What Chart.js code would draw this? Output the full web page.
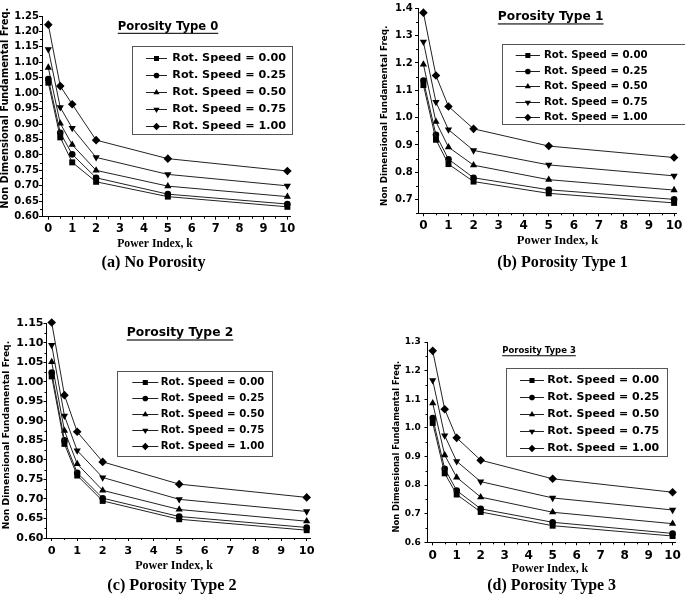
<!DOCTYPE html>
<html><head><meta charset="utf-8">
<script src="https://cdn.jsdelivr.net/npm/chart.js@4/dist/chart.umd.min.js"></script>
<style>
html,body{margin:0;padding:0;background:#fff;width:685px;height:595px;overflow:hidden}
canvas{position:absolute}
</style></head><body>
<canvas id="cA"></canvas><canvas id="cB"></canvas><canvas id="cC"></canvas><canvas id="cD"></canvas>
<script>
// ---------------- data ----------------
const powerIndex = [0, 0.5, 1, 2, 5, 10];
const speedLabels = ['Rot. Speed = 0.00','Rot. Speed = 0.25','Rot. Speed = 0.50','Rot. Speed = 0.75','Rot. Speed = 1.00'];
const xTickLabels = ['0','1','2','3','4','5','6','7','8','9','10'];
const yTickLabelsA = ['0.60','0.65','0.70','0.75','0.80','0.85','0.90','0.95','1.00','1.05','1.10','1.15','1.20','1.25'];
const yTickLabelsB = ['0.7','0.8','0.9','1.0','1.1','1.2','1.3','1.4'];
const yTickLabelsC = ['0.60','0.65','0.70','0.75','0.80','0.85','0.90','0.95','1.00','1.05','1.10','1.15'];
const yTickLabelsD = ['0.6','0.7','0.8','0.9','1.0','1.1','1.2','1.3'];

// Porosity Type 0 (no porosity)
const freqType0 = [
  [1.034, 0.857, 0.776, 0.713, 0.665, 0.632],
  [1.046, 0.872, 0.802, 0.726, 0.673, 0.641],
  [1.083, 0.902, 0.833, 0.750, 0.699, 0.665],
  [1.142, 0.954, 0.887, 0.792, 0.737, 0.700],
  [1.222, 1.023, 0.964, 0.848, 0.788, 0.748]
];
// Porosity Type 1
const freqType1 = [
  [1.119, 0.919, 0.830, 0.766, 0.723, 0.688],
  [1.136, 0.937, 0.848, 0.780, 0.736, 0.701],
  [1.195, 0.985, 0.892, 0.826, 0.773, 0.735],
  [1.277, 1.057, 0.956, 0.880, 0.827, 0.787],
  [1.384, 1.154, 1.041, 0.959, 0.896, 0.854]
];
// Porosity Type 2
const freqType2 = [
  [1.014, 0.841, 0.760, 0.695, 0.648, 0.620],
  [1.024, 0.850, 0.767, 0.702, 0.655, 0.627],
  [1.051, 0.875, 0.790, 0.722, 0.673, 0.643],
  [1.094, 0.913, 0.824, 0.755, 0.699, 0.668],
  [1.152, 0.966, 0.872, 0.795, 0.738, 0.704]
];
// Porosity Type 3
const freqType3 = [
  [1.017, 0.841, 0.767, 0.706, 0.658, 0.622],
  [1.034, 0.857, 0.781, 0.717, 0.670, 0.631],
  [1.086, 0.905, 0.827, 0.758, 0.705, 0.665],
  [1.166, 0.973, 0.883, 0.812, 0.755, 0.713],
  [1.269, 1.065, 0.965, 0.887, 0.822, 0.775]
];
const panelTitles = ['Porosity Type 0','Porosity Type 1','Porosity Type 2','Porosity Type 3'];
const captions = ['(a) No Porosity','(b) Porosity Type 1','(c) Porosity Type 2','(d) Porosity Type 3'];
const xAxisTitle = 'Power Index, k';
const yAxisTitle = 'Non Dimensional Fundamental Freq.';

// ---------------- styles / layout ----------------
const markerStyles = [
  {pointStyle:'rect', rotation:0, radius:4.2},
  {pointStyle:'circle', rotation:0, radius:3.3},
  {pointStyle:'triangle', rotation:0, radius:4.2},
  {pointStyle:'triangle', rotation:180, radius:4.2},
  {pointStyle:'rectRot', rotation:0, radius:4.3}
];
const SANS = '"DejaVu Sans", sans-serif';
const SERIF = '"Liberation Serif", "Times New Roman", serif';

const panels = [
  {id:'cA', off:[0,0,342,297], data:freqType0, yLabels:yTickLabelsA, yMin:0.60, yMax:1.25, xMin:-0.264, xMax:10.11,
   area:[42,290,16,216.7], yTickFont:10, xTickFont:11.5, yPad:0, xPad:2.4,
   title:[168,27,11.6], yTitle:[5.5,108.3,9.8], xTitle:[155,244,11.7], caption:[153.5,263,16.2],
   legend:{box:[132,46,292,134], rows:[57.7,74.7,92,109,126], sample:[146,167], textX:172.3, font:11.2}},
  {id:'cB', off:[342,0,343,297], data:freqType1, yLabels:yTickLabelsB, yMin:0.65, yMax:1.40, xMin:-0.216, xMax:10.09,
   area:[418,680,5.7,213.3], yTickFont:10, xTickFont:12, yPad:2.3, xPad:2.5,
   title:[550.7,17.3,12.2], yTitle:[385,115.8,8.8], xTitle:[557.5,241,12.6], caption:[562.5,263.3,16.1],
   legend:{box:[501.7,44,684.5,124], rows:[55,70.7,86.3,102,117.3], sample:[515.7,540], textX:544, font:10.2}},
  {id:'cC', off:[0,297,342,298], data:freqType2, yLabels:yTickLabelsC, yMin:0.60, yMax:1.15, xMin:-0.204, xMax:10.13,
   area:[46.5,310,323.3,538], yTickFont:11, xTickFont:11.3, yPad:0, xPad:2.9,
   title:[180,333.3,12.3], yTitle:[6.3,435,9.2], xTitle:[174,565.7,12], caption:[172,585.7,16.2],
   legend:{box:[117.3,370.7,272.3,456], rows:[381.7,398,414,430,446], sample:[132.3,158.3], textX:160.7, font:10.2}},
  {id:'cD', off:[342,297,343,298], data:freqType3, yLabels:yTickLabelsD, yMin:0.60, yMax:1.30, xMin:-0.217, xMax:10.1,
   area:[427.5,675,342,542.3], yTickFont:9, xTickFont:12, yPad:3.8, xPad:3.5,
   title:[539,351,8.5], yTitle:[396.7,446.7,8.4], xTitle:[550,568.7,11.8], caption:[551.7,585.7,15.9],
   legend:{box:[505.7,368.3,666.7,456], rows:[380,397,414,431,448], sample:[520,544], textX:547.3, font:11}}
];

const decoPlugin = {
  id:'deco',
  afterDraw(chart, args, opts) {
    const P = opts.panel, idx = opts.index;
    const ox = P.off[0], oy = P.off[1];
    const X = v => v - ox, Y = v => v - oy;
    const ctx = chart.ctx, a = chart.chartArea;
    const xs = chart.scales.x, ys = chart.scales.y;
    ctx.save();
    ctx.strokeStyle = '#000'; ctx.lineWidth = 1;
    // minor ticks on x (half units)
    const xv = xTickLabels.map(Number);
    ctx.beginPath();
    for (let i = 0; i < xv.length - 1; i++) {
      const px = Math.round(xs.getPixelForValue((xv[i] + xv[i+1]) / 2)) + 0.5;
      ctx.moveTo(px, a.bottom); ctx.lineTo(px, a.bottom + 2);
    }
    // minor ticks on y (midpoints)
    const yv = P.yLabels.map(Number);
    const step = yv[1] - yv[0];
    for (let i = 0; i < yv.length; i++) {
      const m = yv[i] - step / 2;
      if (m >= P.yMin - 1e-9) {
        const py = Math.round(ys.getPixelForValue(m)) + 0.5;
        ctx.moveTo(a.left, py); ctx.lineTo(a.left - 2, py);
      }
    }
    ctx.stroke();

    ctx.fillStyle = '#000';
    // panel title underlined
    ctx.font = 'bold ' + P.title[2] + 'px ' + SANS;
    ctx.textAlign = 'center'; ctx.textBaseline = 'middle';
    const tx = X(P.title[0]), ty = Y(P.title[1]);
    ctx.fillText(panelTitles[idx], tx, ty);
    const tw = ctx.measureText(panelTitles[idx]).width;
    ctx.fillRect(tx - tw / 2, ty + P.title[2] * 0.5, tw, Math.max(1, P.title[2] * 0.09));
    // y axis title
    ctx.save();
    ctx.translate(X(P.yTitle[0]), Y(P.yTitle[1]));
    ctx.rotate(-Math.PI / 2);
    ctx.font = 'bold ' + P.yTitle[2] + 'px ' + SANS;
    ctx.fillText(yAxisTitle, 0, 0);
    ctx.restore();
    // x axis title
    ctx.font = 'bold ' + P.xTitle[2] + 'px ' + SERIF;
    ctx.fillText(xAxisTitle, X(P.xTitle[0]), Y(P.xTitle[1]));
    // caption
    ctx.font = 'bold ' + P.caption[2] + 'px ' + SERIF;
    ctx.fillText(captions[idx], X(P.caption[0]), Y(P.caption[1]));
    // legend
    const L = P.legend;
    ctx.strokeStyle = '#555';
    ctx.strokeRect(Math.round(X(L.box[0])) + 0.5, Math.round(Y(L.box[1])) + 0.5,
                   Math.round(L.box[2] - L.box[0]), Math.round(L.box[3] - L.box[1]));
    ctx.font = 'bold ' + L.font + 'px ' + SANS;
    ctx.textAlign = 'left';
    chart.data.datasets.forEach((ds, i) => {
      const ry = Math.round(Y(L.rows[i])) + 0.5;
      ctx.strokeStyle = '#222';
      ctx.beginPath(); ctx.moveTo(X(L.sample[0]), ry); ctx.lineTo(X(L.sample[1]), ry); ctx.stroke();
      ctx.fillStyle = '#000';
      Chart.helpers.drawPoint(ctx, {pointStyle: ds.pointStyle, rotation: ds.pointRotation, radius: ds.pointRadius * 0.85, borderWidth: 0},
        X((L.sample[0] + L.sample[1]) / 2), ry);
      ctx.fillText(ds.label, X(L.textX), ry);
    });
    ctx.restore();
  }
};

panels.forEach((P, idx) => {
  const cv = document.getElementById(P.id);
  cv.width = P.off[2]; cv.height = P.off[3];
  cv.style.left = P.off[0] + 'px'; cv.style.top = P.off[1] + 'px';
  cv.style.width = P.off[2] + 'px'; cv.style.height = P.off[3] + 'px';
  const datasets = P.data.map((vals, i) => ({
    label: speedLabels[i],
    data: powerIndex.map((k, j) => ({x: k, y: vals[j]})),
    borderColor: '#222', borderWidth: 1, tension: 0, fill: false, clip: false,
    pointStyle: markerStyles[i].pointStyle, pointRotation: markerStyles[i].rotation,
    pointRadius: markerStyles[i].radius, pointHoverRadius: markerStyles[i].radius,
    pointBackgroundColor: '#000', pointBorderColor: '#000', pointBorderWidth: 0
  }));
  new Chart(cv, {
    type: 'line',
    data: {datasets},
    options: {
      responsive: false, animation: false, devicePixelRatio: 1,
      layout: {padding: {left: 0, bottom: 0, top: P.area[2] - P.off[1], right: P.off[0] + P.off[2] - P.area[1]}},
      plugins: {legend: {display: false}, tooltip: {enabled: false}, title: {display: false},
                deco: {panel: P, index: idx}},
      scales: {
        x: {
          type: 'linear', min: P.xMin, max: P.xMax,
          afterFit: s => { s.height = P.off[1] + P.off[3] - P.area[3]; },
          afterBuildTicks: s => { s.ticks = xTickLabels.map(t => ({value: Number(t)})); },
          ticks: {autoSkip: false, maxRotation: 0, padding: P.xPad, color: '#000',
                  font: {family: SANS, weight: 'bold', size: P.xTickFont},
                  callback: (v, i) => xTickLabels[i]},
          grid: {display: true, drawOnChartArea: false, drawTicks: true, tickLength: 3, color: '#000'},
          border: {display: true, color: '#000', width: 1}
        },
        y: {
          type: 'linear', min: P.yMin, max: P.yMax,
          afterFit: s => { s.width = P.area[0] - P.off[0]; },
          afterBuildTicks: s => { s.ticks = P.yLabels.map(t => ({value: Number(t)})); },
          ticks: {autoSkip: false, padding: P.yPad, color: '#000',
                  font: {family: SANS, weight: 'bold', size: P.yTickFont},
                  callback: (v, i) => P.yLabels[i]},
          grid: {display: true, drawOnChartArea: false, drawTicks: true, tickLength: 3, color: '#000'},
          border: {display: true, color: '#000', width: 1}
        }
      }
    },
    plugins: [decoPlugin]
  });
});
</script>
</body></html>
